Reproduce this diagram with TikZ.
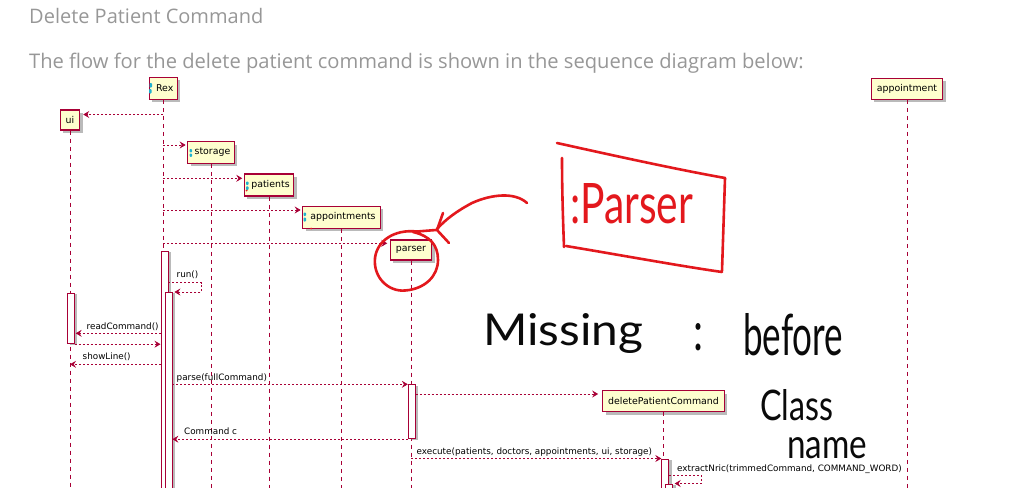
\documentclass[tikz,border=0pt]{standalone}
\usepackage{fontspec}
\usepackage{graphicx}
\setmainfont{Open Sans}
\newfontfamily\diagfont{DejaVu Sans}
\newfontfamily\handfont{Lato}
\usetikzlibrary{arrows.meta,shadows,calc}
\definecolor{umlred}{HTML}{A80036}
\definecolor{umlfill}{HTML}{FEFECE}
\definecolor{pen}{HTML}{E3181D}
\definecolor{ink}{HTML}{0A0A0A}
\definecolor{iconc}{HTML}{1FB2CF}
\definecolor{titlegray}{HTML}{979797}
\tikzset{
  part/.style={draw=umlred, line width=1.1pt, fill=umlfill, inner sep=0pt,
    font=\diagfont\fontsize{9.4}{11}\selectfont, text=black,
    drop shadow={shadow xshift=3pt, shadow yshift=-3pt, fill=black!60, opacity=0.45}},
  life/.style={umlred, line width=0.8pt, dash pattern=on 4pt off 4pt},
  actbar/.style={draw=umlred, line width=0.9pt, fill=white, inner sep=0pt, minimum width=7pt,
    anchor=north west,
    drop shadow={shadow xshift=3pt, shadow yshift=-1pt, fill=black!60, opacity=0.45}},
  msg/.style={umlred, line width=0.7pt, dash pattern=on 2pt off 2pt,
    -{Stealth[length=6pt,width=7pt,inset=2.2pt]}},
  lbl/.style={font=\diagfont\fontsize{8.8}{10}\selectfont, anchor=west, inner sep=0pt, text=black},
  penline/.style={pen, line width=2.6pt, line cap=round, line join=round},
  handtext/.style={inner sep=0pt, anchor=base west, font=\handfont},
  icondot/.style={fill=iconc, rounded corners=0.8pt}
}
\begin{document}
\begin{tikzpicture}[x=1pt,y=-1pt]
\useasboundingbox (0,0) rectangle (1024,487);

% page text
\node[anchor=base west, inner sep=0pt, text=titlegray, font=\fontsize{20}{24}\selectfont] (title) at (29,24) {Delete Patient Command};
\node[anchor=base west, inner sep=0pt, text=titlegray, font=\fontsize{20.15}{24}\selectfont] (subtitle) at (29,68.3) {The flow for the delete patient command is shown in the sequence diagram below:};

% participants
\node[part, minimum width=27.7pt, minimum height=22pt] (rex) at (163.2,88.3) {\hspace{3pt}Rex};
\node[part, minimum width=19.4pt, minimum height=20pt] (ui) at (70,120) {ui};
\node[part, minimum width=46.6pt, minimum height=21.6pt] (storage) at (211,152.5) {\hspace{3pt}storage};
\node[part, minimum width=49.4pt, minimum height=22pt] (patients) at (269,185) {\hspace{3pt}patients};
\node[part, minimum width=77.6pt, minimum height=22.3pt] (appointments) at (341.5,217.2) {\hspace{3pt}appointments};
\node[part, minimum width=41.4pt, minimum height=20pt] (parser) at (411,250) {parser};
\node[part, minimum width=71.7pt, minimum height=21pt] (appointment) at (907,88.8) {appointment};
\node[part, minimum width=121.6pt, minimum height=21pt] (dpc) at (663.5,401.2) {deletePatientCommand};

% icons
\fill[icondot] (149.5,83) rectangle (152,87.5);
\fill[icondot] (149,89) rectangle (151.5,93.5);
\fill[icondot] (189.5,149) rectangle (192,152.3);
\fill[icondot] (189.5,153.5) rectangle (192,156.8);
\fill[icondot] (246,181.5) rectangle (248.5,185);
\fill[icondot] (246,186.3) rectangle (248.5,190);
\fill[pen] (246.5,190.5) circle (1pt);
\fill[icondot] (303.5,212.5) rectangle (306,216);
\fill[icondot] (303.5,217.5) rectangle (306,221.5);
\fill[pen] (311,228.5) circle (1pt);

% lifelines
\foreach \n in {rex,ui,storage,patients,appointments,parser,appointment,dpc}
  \draw[life] (\n.south) -- ++(0,420);

% activation bars
\node[actbar, minimum height=241.5pt] (rexbar) at (160.5,250.5) {};
\node[actbar, minimum height=200pt] (rexbar2) at (164.5,292) {};
\node[actbar, minimum height=50.8pt] (uibar) at (66.8,292.5) {};
\node[actbar, minimum height=54pt] (parserbar) at (407.8,384.3) {};
\node[actbar, minimum height=33.5pt] (dpcbar) at (661.3,458.5) {};
\node[actbar, minimum height=10pt] (dpcbar2) at (665.3,483.5) {};

% messages
\draw[msg, shorten >=3pt] (rex.south |- 0,114.5) -- (ui.east |- 0,114.5);
\draw[msg, shorten >=1.5pt] (rex.south |- 0,145) -- (storage.west |- 0,145);
\draw[msg, shorten >=1.5pt] (rex.south |- 0,178.3) -- (patients.west |- 0,178.3);
\draw[msg, shorten >=1.5pt] (rex.south |- 0,210) -- (appointments.west |- 0,210);
\draw[msg, shorten >=2.5pt] (rex.south |- 0,243.3) -- (parser.west |- 0,243.3);

\draw[msg] (rexbar.east |- 0,282.7) -- (201.7,282.7) -- (201.7,292) -- ($(rexbar2.north east)+(2,0)$);
\node[lbl] (lrun) at (176.5,275) {run()};

\draw[msg, shorten >=1pt] (rexbar.west |- 0,333.3) -- (uibar.east |- 0,333.3);
\node[lbl] (lread) at (86.5,326.7) {readCommand()};
\draw[msg] (uibar.south east) -- (rexbar.west |- uibar.south east);

\draw[msg] (rexbar.west |- 0,364.3) -- (ui.south |- 0,364.3);
\node[lbl] (lshow) at (82.5,357) {showLine()};

\draw[msg] (rexbar2.east |- 0,384.3) -- (parserbar.north west);
\node[lbl] (lparse) at (176.5,378) {parse(fullCommand)};

\draw[msg, shorten >=4pt] (parserbar.east |- 0,394) -- (dpc.west |- 0,394);

\draw[msg] (parserbar.south west) -- (rexbar2.east |- parserbar.south west);
\node[lbl] (lcmd) at (184,431.7) {Command c};

\draw[msg] (parser.south |- 0,458.5) -- (dpcbar.north west);
\node[lbl] (lexec) at (416.5,452.5) {execute(patients, doctors, appointments, ui, storage)};

\draw[msg] (dpcbar.east |- 0,475.3) -- (701.5,475.3) -- (701.5,483.5) -- ($(dpcbar2.north east)+(1.5,0)$);
\node[lbl] (lextract) at (677,469) {extractNric(trimmedCommand, COMMAND\_WORD)};

% red handwritten annotation
\draw[penline] (436,230) -- (417,231.5) .. controls (394,229) and (377,241) .. (375,258)
   .. controls (373,278) and (389,292) .. (405,290.5) .. controls (425,289) and (438,276) .. (438,260)
   .. controls (438,245) and (430,236) .. (413,232);
\draw[penline] (527,203) .. controls (515,192) and (492,194) .. (472,203) .. controls (457,211) and (446,219) .. (437,229);
\draw[penline] (443,213) -- (437,230) -- (449,243);
\draw[penline] (557,143) .. controls (620,157) and (680,170) .. (725,178);
\draw[penline] (562,158) .. controls (562,190) and (563,220) .. (564,247);
\draw[penline] (725,178) .. controls (724,210) and (723,240) .. (722,271);
\draw[penline] (566,246) .. controls (620,255) and (680,266) .. (722,272);
\node[handtext, text=pen] (hparser) at (570,223) {\resizebox{123pt}{40pt}{:Parser}};

% black handwriting
\node[handtext, text=ink] (hmissing) at (483,345) {\resizebox{160pt}{32pt}{Missing}};
\node[handtext, text=ink] (hcolon) at (693,350) {\resizebox{10pt}{27pt}{:}};
\node[handtext, text=ink] (hbefore) at (743,355) {\resizebox{100pt}{42pt}{before}};
\node[handtext, text=ink] (hclass) at (760,420) {\resizebox{73pt}{31pt}{Class}};
\node[handtext, text=ink] (hname) at (787,458) {\resizebox{80pt}{21pt}{name}};
\end{tikzpicture}
\end{document}
